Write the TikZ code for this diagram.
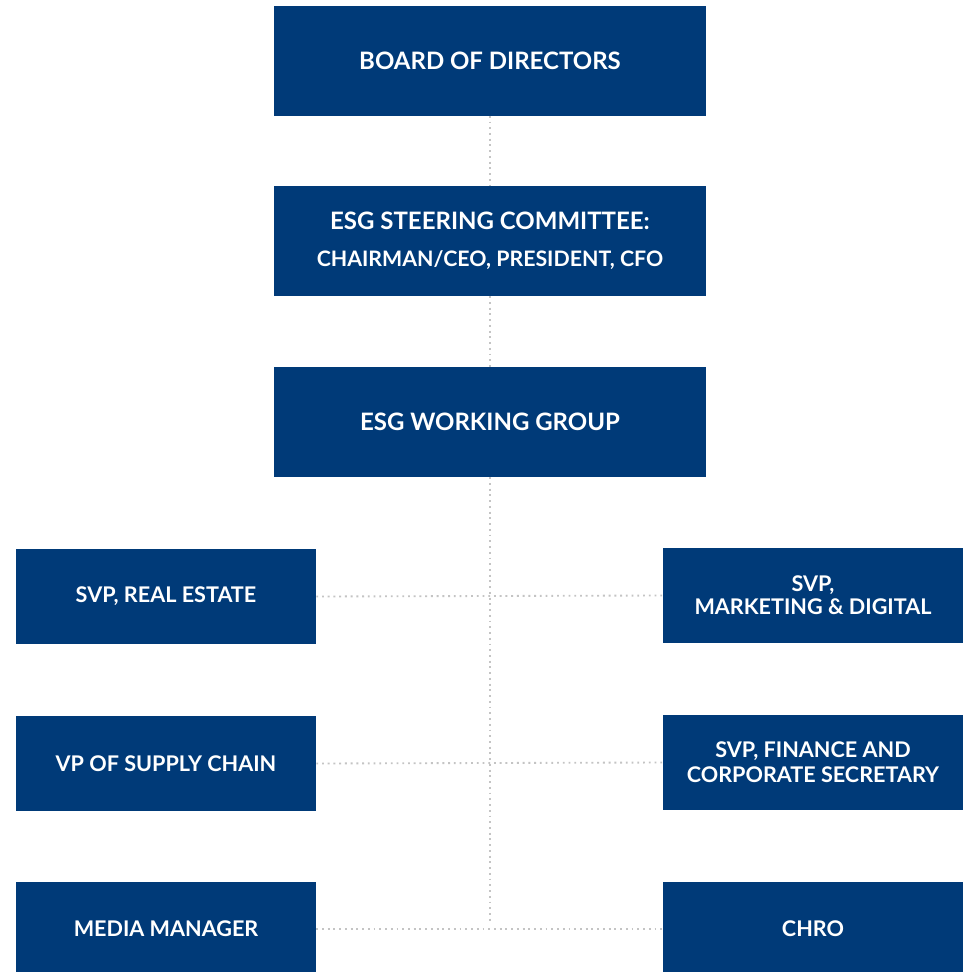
\documentclass[tikz,border=0pt]{standalone}
\usepackage{fontspec}
\setmainfont{Lato}[UprightFont=* Bold]
\definecolor{navy}{HTML}{003A78}
\definecolor{dotgray}{HTML}{C4C4C4}
\tikzset{
  mainbox/.style={fill=navy, text=white, minimum width=324pt, minimum height=82.5pt, inner sep=0pt, align=center, font=\fontsize{18}{21}\selectfont},
  subbox/.style={fill=navy, text=white, minimum width=225pt, minimum height=71.25pt, inner sep=0pt, align=center, font=\fontsize{16.2}{17}\selectfont},
  dotline/.style={draw=dotgray, line width=1.4pt, dash pattern=on 1.4pt off 2.9pt}
}
\begin{document}
\begin{tikzpicture}[x=0.75pt,y=-0.75pt]
\useasboundingbox (0,0) rectangle (966,972);
\clip (0,0) rectangle (966,972);
\fill[white] (0,0) rectangle (966,972);
\node[mainbox] (board) at (490,60.5) {BOARD OF DIRECTORS};
\node[mainbox] (steer) at (490,241) {{\fontsize{18}{21}\selectfont ESG STEERING COMMITTEE:}\\[6.5pt]{\fontsize{16}{19}\selectfont CHAIRMAN/CEO, PRESIDENT, CFO}};
\node[mainbox] (wg) at (490,422) {ESG WORKING GROUP};
\node[subbox] (re) at (166,596.5) {SVP, REAL ESTATE};
\node[subbox] (mk) at (813,595.5) {SVP,\\MARKETING \& DIGITAL};
\node[subbox] (sc) at (166,763.5) {VP OF SUPPLY CHAIN};
\node[subbox] (fin) at (813,762.5) {SVP, FINANCE AND\\[2pt]CORPORATE SECRETARY};
\node[subbox] (media) at (166,929) {MEDIA MANAGER};
\node[subbox] (chro) at (813,929) {CHRO};
\coordinate (trunkend) at (490,922);
\draw[dotline] (board.south) -- (steer.north);
\draw[dotline] (steer.south) -- (wg.north);
\draw[dotline] (wg.south) -- (trunkend);
\draw[dotline] (re.east) -- (mk.west);
\draw[dotline] (sc.east) -- (fin.west);
\draw[dotline] (media.east) -- (chro.west);
\end{tikzpicture}
\end{document}
